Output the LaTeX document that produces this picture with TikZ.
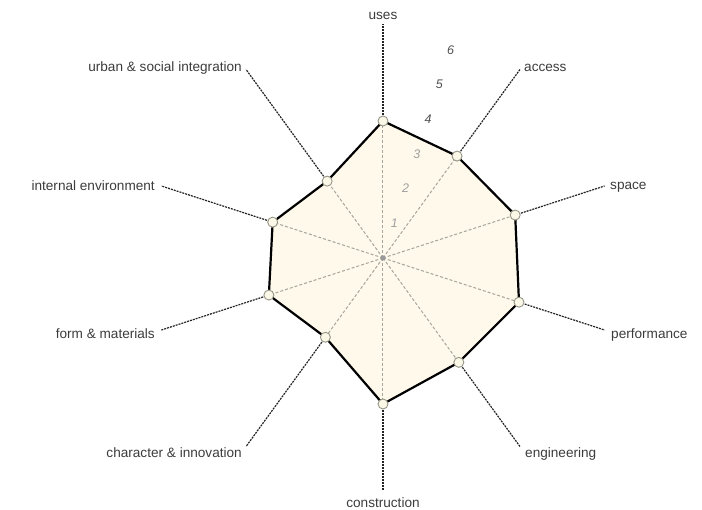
\documentclass[tikz,border=0pt]{standalone}
\usepackage{fontspec}
\setmainfont{Liberation Sans}
\definecolor{creamfill}{RGB}{254,249,235}
\definecolor{dotfill}{RGB}{251,248,232}
\definecolor{dotline}{RGB}{150,150,135}
\definecolor{labeltext}{RGB}{60,60,60}
\definecolor{innerax}{RGB}{165,165,155}
\definecolor{outerax}{RGB}{35,35,35}
\definecolor{numlight}{RGB}{160,160,160}
\definecolor{numdark}{RGB}{80,80,80}
\tikzset{
  lbl/.style={font=\fontsize{13.6}{16}\selectfont, text=labeltext, inner sep=0pt},
  num/.style={font=\fontsize{12.5}{14}\selectfont\itshape, inner sep=0pt},
  innerline/.style={draw=innerax, line width=1pt, dash pattern=on 3pt off 2pt},
  outerline/.style={draw=outerax, line width=1.2pt, dash pattern=on 2pt off 1pt},
  vdot/.style={circle, draw=dotline, fill=dotfill, line width=0.9pt, minimum size=10pt, inner sep=0pt},
  poly/.style={draw=black, line width=2.2pt, line join=round},
}
\begin{document}
\begin{tikzpicture}[x=1pt,y=1pt]
\useasboundingbox (-383,-252) rectangle (319,258);
% vertices (angle:radius)
\coordinate (Puses) at (90:137);
\coordinate (Paccess) at (54:126);
\coordinate (Pspace) at (18:139);
\coordinate (Pperf) at (-18:143);
\coordinate (Peng) at (-54:129);
\coordinate (Pcons) at (-90:146);
\coordinate (Pchar) at (-126:98);
\coordinate (Pform) at (-162:120);
\coordinate (Pint) at (162:116);
\coordinate (Purb) at (126:95);
% axis ends
\coordinate (Euses) at (90:234);
\coordinate (Eaccess) at (54:233);
\coordinate (Espace) at (18:233);
\coordinate (Eperf) at (-18:233);
\coordinate (Eeng) at (-54:233);
\coordinate (Econs) at (-90:232);
\coordinate (Echar) at (-126:233);
\coordinate (Eform) at (-162:233);
\coordinate (Eint) at (162:233);
\coordinate (Eurb) at (126:233);
% fill
\fill[creamfill] (Puses) -- (Paccess) -- (Pspace) -- (Pperf) -- (Peng) -- (Pcons) -- (Pchar) -- (Pform) -- (Pint) -- (Purb) -- cycle;
% inner axes
\node[circle, inner sep=0pt, minimum size=5pt] (C) at (0,0) {};
\foreach \p in {Puses,Paccess,Pspace,Pperf,Peng,Pcons,Pchar,Pform,Pint,Purb}
  \draw[innerline] (0,0) -- (\p);
\fill[gray!80] (C.center) circle (2.6pt);
% numbers
\foreach \k in {1,2,3}
  \node[num, text=numlight] (N\k) at (72:36.5*\k) {\k};
\foreach \k in {4,5,6}
  \node[num, text=numdark] (N\k) at (72:36.5*\k) {\k};
% polygon
\draw[poly] (Puses) -- (Paccess) -- (Pspace) -- (Pperf) -- (Peng) -- (Pcons) -- (Pchar) -- (Pform) -- (Pint) -- (Purb) -- cycle;
% outer axes
\foreach \a/\b in {Puses/Euses,Paccess/Eaccess,Pspace/Espace,Pperf/Eperf,Peng/Eeng,Pcons/Econs,Pchar/Echar,Pform/Eform,Pint/Eint,Purb/Eurb}
  \draw[outerline] (\a) -- (\b);
% vertex dots
\foreach \p in {Puses,Paccess,Pspace,Pperf,Peng,Pcons,Pchar,Pform,Pint,Purb}
  \node[vdot] (V\p) at (\p) {};
% labels
\node[lbl, anchor=south] (Luses) at (0,238) {uses};
\node[lbl, anchor=west] (Laccess) at (141,190) {access};
\node[lbl, anchor=west] (Lspace) at (227,71) {space};
\node[lbl, anchor=west] (Lperf) at (228,-77) {performance};
\node[lbl, anchor=west] (Leng) at (142,-196) {engineering};
\node[lbl, anchor=north] (Lcons) at (0,-239) {construction};
\node[lbl, anchor=east] (Lchar) at (-141,-195) {character \& innovation};
\node[lbl, anchor=east] (Lform) at (-228,-76) {form \& materials};
\node[lbl, anchor=east] (Lint) at (-228,72) {internal environment};
\node[lbl, anchor=east] (Lurb) at (-141,190) {urban \& social integration};
\end{tikzpicture}
\end{document}
